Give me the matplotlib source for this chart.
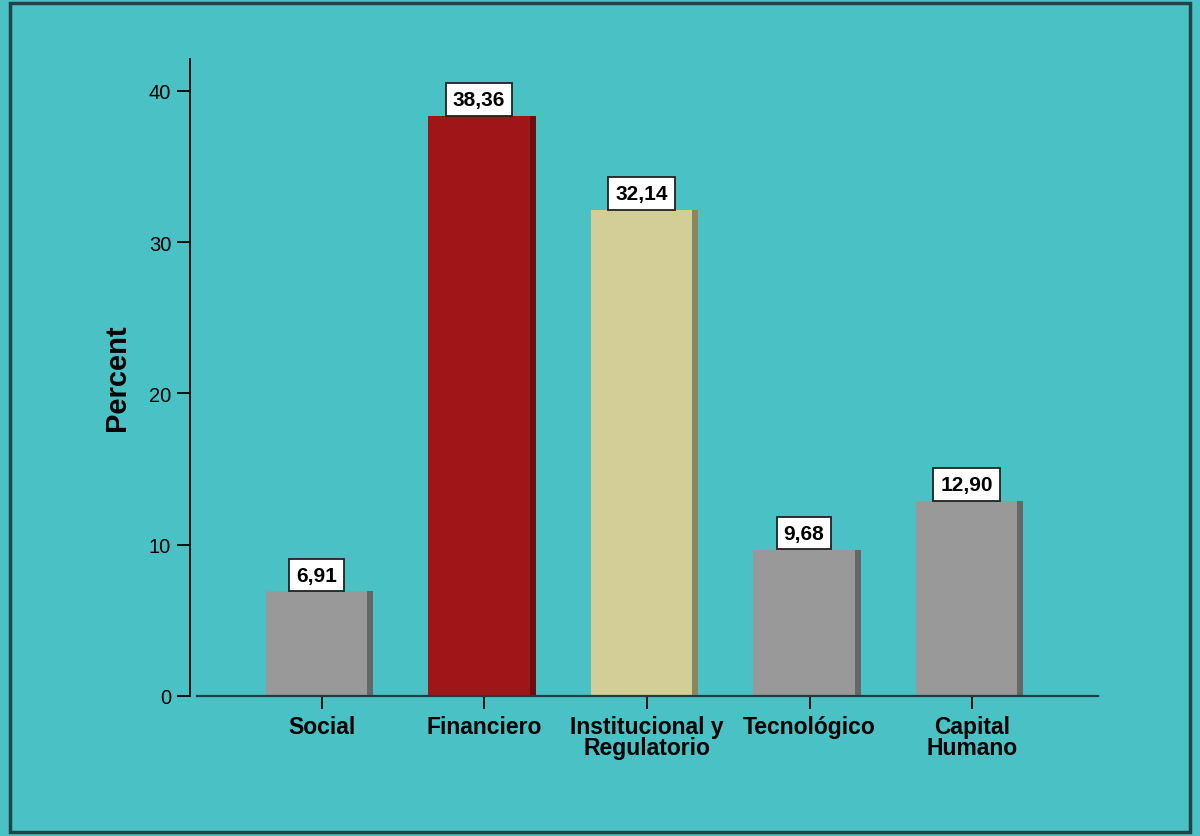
import matplotlib
matplotlib.use("Agg")
import matplotlib.pyplot as plt
from matplotlib.patches import Rectangle

plt.rcParams["font.family"] = ["Liberation Sans", "DejaVu Sans"]

# Percentages by category
categories = ["Social", "Financiero", "Institucional y\nRegulatorio", "Tecnológico", "Capital\nHumano"]
percent = [6.91, 38.36, 32.14, 9.68, 12.90]

# Bar face and side-shadow colours
face_colors = ["#999999", "#A01518", "#D3CE98", "#999999", "#999999"]
side_colors = ["#666666", "#6A0E10", "#8C8660", "#666666", "#666666"]

BG = "#4AC2C5"
AXIS = "#1C3C3D"

fig = plt.figure(figsize=(12, 8.37), dpi=100, facecolor=BG)
ax = fig.add_axes([190 / 1200, 1 - 697 / 837, 908 / 1200, 637 / 837])
ax.set_facecolor(BG)

x = list(range(len(categories)))
face_left, face_right, side_right = -0.345, 0.277, 0.314

# bar faces plus a thin darker strip on the right to fake depth
ax.bar([i + face_left for i in x], percent, width=face_right - face_left,
       align="edge", color=face_colors, linewidth=0, zorder=2)
ax.bar([i + face_right for i in x], percent, width=side_right - face_right,
       align="edge", color=side_colors, linewidth=0, zorder=2)

# value labels in white boxes sitting on top of each bar
for i, v in zip(x, percent):
    ax.annotate(f"{v:.2f}".replace(".", ","),
                xy=(i + (face_left + face_right) / 2, v),
                xytext=(0, 5), textcoords="offset points",
                ha="center", va="bottom", fontsize=15, fontweight="bold",
                color="black", zorder=4,
                bbox=dict(boxstyle="square,pad=0.33", fc="white", ec="#222222", lw=1.3))

ax.set_xlim(-0.812, 4.775)
ax.set_ylim(0, 42.1)
ax.set_yticks([0, 10, 20, 30, 40])
ax.set_xticks(x)
ax.set_xticklabels(categories, fontsize=16.5, fontweight="bold", linespacing=0.9)

for side in ["top", "right"]:
    ax.spines[side].set_visible(False)
ax.spines["left"].set_color("#111111")
ax.spines["left"].set_linewidth(1.4)
ax.spines["bottom"].set_color(AXIS)
ax.spines["bottom"].set_linewidth(1.6)
ax.spines["bottom"].set_bounds(-0.77, 4.775)

ax.tick_params(axis="y", direction="out", length=9.5, width=1.4, color="#111111",
               labelsize=14.5, pad=4)
ax.tick_params(axis="x", direction="out", length=9, width=1.4, color="#111111", pad=4.5)

fig.text(117 / 1200, 1 - 378 / 837, "Percent", rotation=90, ha="center", va="center",
         fontsize=21, fontweight="bold")

# dark frame around the whole chart
fig.patches.append(Rectangle((10 / 1200, 4 / 837), 1180 / 1200, 829 / 837,
                             transform=fig.transFigure, fill=False,
                             edgecolor="#1F4546", linewidth=2.5))

fig.savefig("out.png", dpi=100, facecolor=BG)
